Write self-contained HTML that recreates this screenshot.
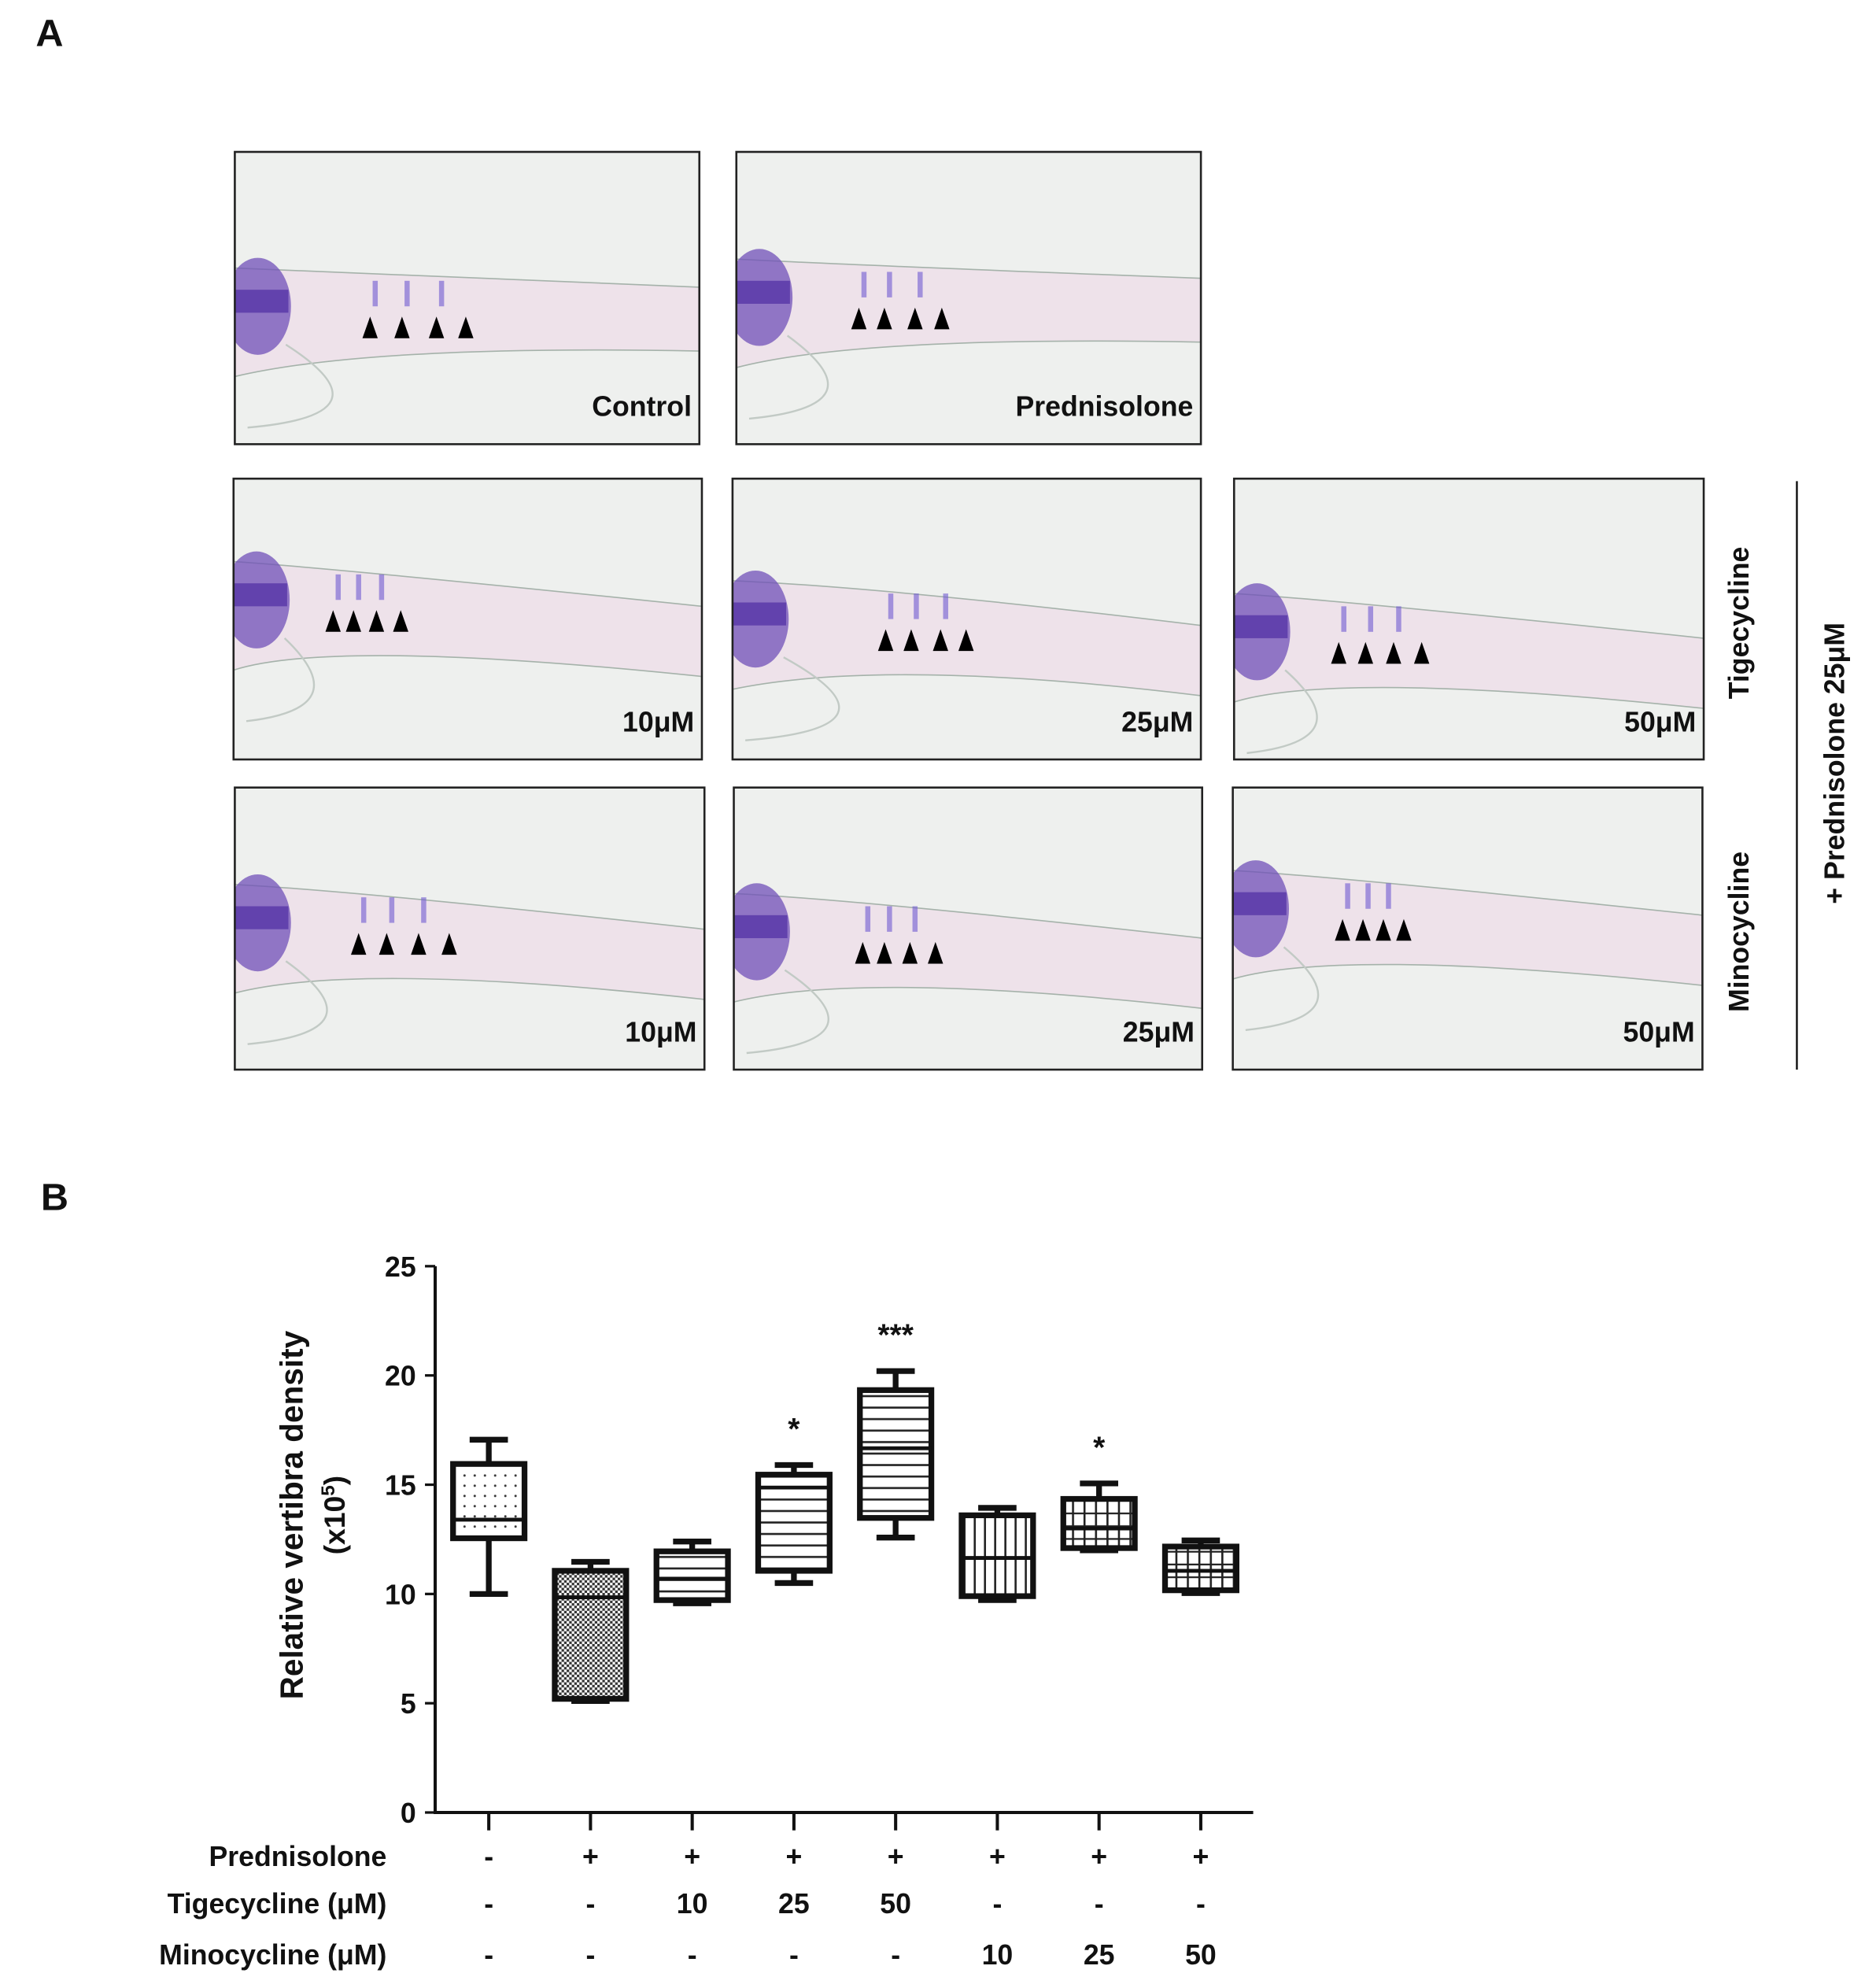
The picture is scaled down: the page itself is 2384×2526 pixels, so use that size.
<!DOCTYPE html>
<html><head><meta charset="utf-8"><style>
html,body{margin:0;padding:0;background:#fff}
svg{display:block}
text{font-family:"Liberation Sans",Arial,sans-serif;font-weight:bold;fill:#111}
</style></head><body>
<svg id="fig" width="2384" height="2526" viewBox="0 0 1470 1557.5" preserveAspectRatio="none" xmlns="http://www.w3.org/2000/svg">
<defs>
<pattern id="pDots" width="8" height="8" patternUnits="userSpaceOnUse"><circle cx="4" cy="4" r="0.9" fill="#333"/></pattern>
<pattern id="pCheck" width="4" height="4" patternUnits="userSpaceOnUse"><rect width="4" height="4" fill="#fff"/><rect width="2" height="2" fill="#333"/><rect x="2" y="2" width="2" height="2" fill="#333"/></pattern>
<pattern id="pH" width="10" height="9" patternUnits="userSpaceOnUse"><rect y="4" width="10" height="1.6" fill="#222"/></pattern>
<pattern id="pV" width="8" height="10" patternUnits="userSpaceOnUse"><rect x="3" width="1.6" height="10" fill="#222"/></pattern>
<pattern id="pG" width="9" height="10" patternUnits="userSpaceOnUse"><rect x="3" width="1.6" height="10" fill="#222"/><rect y="5" width="9" height="1.4" fill="#222"/></pattern>
</defs>
<text x="28" y="36" font-size="30">A</text>
<text x="32" y="948" font-size="30">B</text>
<g id="panels"></g>
<text transform="translate(1370,488) rotate(-90)" font-size="22" text-anchor="middle">Tigecycline</text>
<text transform="translate(1370,730) rotate(-90)" font-size="22" text-anchor="middle">Minocycline</text>
<text transform="translate(1445,598) rotate(-90)" font-size="22" text-anchor="middle">+ Prednisolone 25μM</text>
<line x1="1408" y1="377" x2="1408" y2="838" stroke="#111" stroke-width="1.5"/>
<g id="chart"></g>
</svg>
<script>
const NS='http://www.w3.org/2000/svg';
function mk(tag,attrs,parent){const e=document.createElementNS(NS,tag);for(const k in attrs)e.setAttribute(k,attrs[k]);parent.appendChild(e);return e;}
// ---- Panel A micrographs ----
const panelLabels=['Control','Prednisolone','10μM','25μM','50μM','10μM','25μM','50μM'];
const panelBoxes=[[184,119,364,229],[577,119,364,229],[183,375,367,220],[574,375,367,220],[967,375,368,220],[184,617,368,221],[575,617,367,221],[966,617,368,221]];
const panelArrows=[[290,315,342,365],[673,693,717,738],[261,277,295,314],[694,714,737,757],[1049,1070,1092,1114],[281,303,328,352],[676,693,713,733],[1052,1068,1084,1100]];
const arrowY=[265,258,495,510,520,748,755,737];
const pg=document.getElementById('panels');
panelBoxes.forEach((b,i)=>{
  const g=mk('g',{},pg);
  
  
  mk('clipPath',{id:'cp'+i},g).appendChild(document.createElementNS(NS,'rect'));
  const cr=g.querySelector('clipPath rect');cr.setAttribute('x',b[0]);cr.setAttribute('y',b[1]);cr.setAttribute('width',b[2]);cr.setAttribute('height',b[3]);
  const c=mk('g',{'clip-path':'url(#cp'+i+')'},g);
  mk('rect',{x:b[0],y:b[1],width:b[2],height:b[3],fill:'#eef0ee'},c);
  const ay=arrowY[i], ax=panelArrows[i][0];
  mk('path',{d:`M${b[0]} ${ay-55} Q${ax} ${ay-50} ${b[0]+b[2]} ${ay-40+(i>1?20:0)} L${b[0]+b[2]} ${ay+10+(i>1?25:0)} Q${ax} ${ay+5} ${b[0]} ${ay+30} Z`,fill:'#eee2ea',stroke:'#a5b2aa','stroke-width':1},c);
  mk('path',{d:`M${b[0]+40} ${ay+5} Q${ax+20} ${ay+60} ${b[0]+10} ${ay+70}`,fill:'none',stroke:'#c2cac5','stroke-width':1.5},c);
  mk('ellipse',{cx:b[0]+18,cy:ay-25,rx:26,ry:38,fill:'#7050b8',opacity:0.75},c);
  mk('rect',{x:b[0],y:ay-38,width:42,height:18,fill:'#5a3aa8',opacity:0.85},c);
  panelArrows[i].slice(0,3).forEach(x=>mk('rect',{x:x+2,y:ay-45,width:4,height:20,fill:'#6f5ad0',opacity:0.6},c));
  mk('rect',{x:b[0],y:b[1],width:b[2],height:b[3],fill:'none',stroke:'#222','stroke-width':1.6},g);
  panelArrows[i].forEach(x=>{
    const t=mk('path',{d:`M${x} ${ay-17} L${x+6} ${ay} L${x-6} ${ay} Z`,fill:'#000'},g);
    
    
  });
  const tl=mk('text',{x:b[0]+b[2]-6,y:b[1]+b[3]-22,'font-size':22,'text-anchor':'end'},g);
  tl.textContent=panelLabels[i];
  
  
});
// ---- Panel B box plot ----
const groups=['ctrl','pred','t10','t25','t50','m10','m25','m50'];
const whiskMax=[17.06,11.47,12.4,15.9,20.2,13.94,15.06,12.45];
const q3=[15.95,11.06,11.95,15.46,19.33,13.6,14.35,12.17];
const medians=[13.4,9.85,10.7,14.87,16.67,11.65,13.0,11.06];
const q1=[12.55,5.2,9.72,11.06,13.48,9.9,12.1,10.17];
const whiskMin=[10.0,5.1,9.57,10.5,12.58,9.72,12.0,10.04];
const yTicks=[0,5,10,15,20,25];
const sig=['','','','*','***','','*',''];
const predRow=['-','+','+','+','+','+','+','+'];
const tigeRow=['-','-','10','25','50','-','-','-'];
const minoRow=['-','-','-','-','-','10','25','50'];
const fills=['url(#pDots)','url(#pCheck)','url(#pH)','url(#pH)','url(#pH)','url(#pV)','url(#pG)','url(#pG)'];
const ch=document.getElementById('chart');
const Y=v=>1420-v*(1420-992)/25;
const X=i=>383+i*79.7;
const bw=56;
mk('line',{x1:341,y1:Y(25),x2:341,y2:1421,stroke:'#111','stroke-width':2.5},ch);
mk('line',{x1:339.8,y1:1420,x2:982,y2:1420,stroke:'#111','stroke-width':2.5},ch);
yTicks.forEach(v=>{
  mk('line',{x1:333,y1:Y(v),x2:341,y2:Y(v),stroke:'#111','stroke-width':2},ch);
  const t=mk('text',{x:326,y:Y(v)+8,'font-size':22,'text-anchor':'end'},ch);t.textContent=v;
  
  
});
const yl=mk('text',{transform:'translate(237,1187) rotate(-90)','font-size':25,'text-anchor':'middle'},ch);
yl.textContent='Relative vertibra density';


const yl2=mk('text',{transform:'translate(270,1187) rotate(-90)','font-size':23,'text-anchor':'middle'},ch);
yl2.innerHTML='(x10<tspan dy="-8" font-size="15">5</tspan><tspan dy="8">)</tspan>';


groups.forEach((gname,i)=>{
  const x=X(i);
  mk('line',{x1:x,y1:1420,x2:x,y2:1434,stroke:'#111','stroke-width':2.5},ch);
  const g=mk('g',{},ch);
  
  
  const st={stroke:'#111','stroke-width':4.5,fill:'none'};
  mk('line',Object.assign({x1:x,y1:Y(whiskMax[i]),x2:x,y2:Y(whiskMin[i])},st),g);
  mk('line',Object.assign({x1:x-15,y1:Y(whiskMax[i]),x2:x+15,y2:Y(whiskMax[i])},st),g);
  mk('line',Object.assign({x1:x-15,y1:Y(whiskMin[i]),x2:x+15,y2:Y(whiskMin[i])},st),g);
  mk('rect',{x:x-bw/2,y:Y(q3[i]),width:bw,height:Y(q1[i])-Y(q3[i]),fill:'#fff'},g);
  mk('rect',{x:x-bw/2,y:Y(q3[i]),width:bw,height:Y(q1[i])-Y(q3[i]),fill:fills[i]},g);
  mk('rect',Object.assign({x:x-bw/2,y:Y(q3[i]),width:bw,height:Y(q1[i])-Y(q3[i])},st),g);
  mk('line',Object.assign({x1:x-bw/2,y1:Y(medians[i]),x2:x+bw/2,y2:Y(medians[i])},st,{'stroke-width':3}),g);
  if(sig[i]){
    const s=mk('text',{x:x,y:Y(whiskMax[i])-20,'font-size':24,'text-anchor':'middle'},ch);s.textContent=sig[i];
    
    
  }
  [[predRow,1462],[tigeRow,1499],[minoRow,1539]].forEach(([row,yy])=>{
    const t=mk('text',{x:x,y:yy,'font-size':22,'text-anchor':'middle'},ch);t.textContent=row[i];
    
    
  });
});
[['Prednisolone',1462],['Tigecycline (μM)',1499],['Minocycline (μM)',1539]].forEach(([s,yy])=>{
  const t=mk('text',{x:303,y:yy,'font-size':22,'text-anchor':'end'},ch);t.textContent=s;
  
  
});
</script>
</body></html>
